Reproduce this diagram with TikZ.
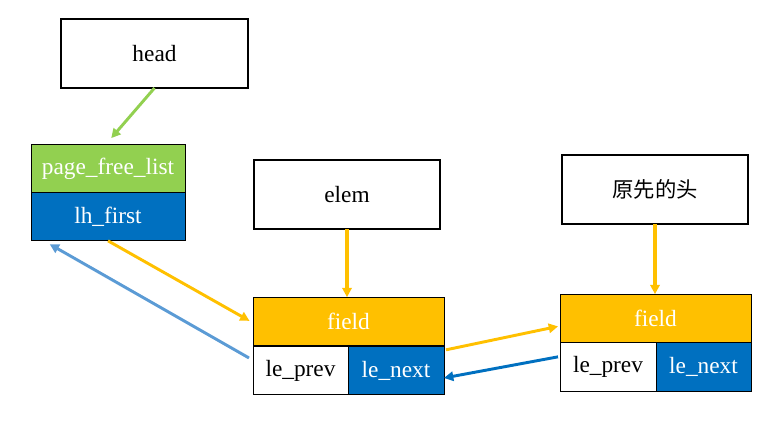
\documentclass[tikz,border=0pt]{standalone}
\usepackage{fontspec}
\setmainfont{Liberation Serif}
\newfontfamily\cjk{Noto Sans CJK SC}
\usetikzlibrary{arrows.meta, calc, positioning}

\definecolor{cgreen}{HTML}{92D050}
\definecolor{cblue}{HTML}{0070C0}
\definecolor{corange}{HTML}{FFC000}
\definecolor{clight}{HTML}{5B9BD5}

\tikzset{
	ptr/.style={draw, line width=1.5pt, fill=white, inner sep=0pt, outer sep=0pt,
		minimum width=140pt, minimum height=51.75pt, font=\fontsize{17.5}{20}\selectfont},
	cell/.style={draw, line width=0.75pt, inner sep=0pt, outer sep=0pt,
		minimum height=36.5pt, font=\fontsize{17.5}{20}\selectfont},
	link/.style={line width=2.2pt, -{Triangle[length=7pt, width=7pt]}},
}

\begin{document}
\begin{tikzpicture}[x=0.75pt, y=-0.75pt]
		\useasboundingbox (0,0) rectangle (781,423);
		
		% Pointer boxes
		\node[ptr] (head) at (154.5,53.5) {head};
		\node[ptr] (elem) at (347,195) {elem};
		\node[ptr] (old) at (655,189.5) {\cjk\fontsize{16}{20}\selectfont 原先的头};
		
		% List head
		\node[cell, fill=cgreen, text=white, minimum width=115.5pt] (freelist) at (108,168.5) {page\_free\_list};
		\node[cell, fill=cblue, text=white, minimum width=115.5pt] (lhfirst) at (108,216.5) {lh\_first};
		
		% First element
		\node[cell, fill=corange, text=white, minimum width=143.25pt] (field1) at (348.5,321.5) {field};
		\node[cell, minimum width=71.25pt] (prev1) at (300.5,370.5) {le\_prev};
		\node[cell, fill=cblue, text=white, minimum width=72pt] (next1) at (396,370.5) {le\_next};
		
		% Second element
		\node[cell, fill=corange, text=white, minimum width=143.25pt] (field2) at (655.5,318.5) {field};
		\node[cell, minimum width=72pt] (prev2) at (608,367) {le\_prev};
		\node[cell, fill=cblue, text=white, minimum width=71.25pt] (next2) at (703.5,367) {le\_next};
		
		% Links
		\draw[link, cgreen] (head.south) -- ([xshift=-1.5pt]freelist.north) [shorten >=6pt];
		\draw[link, corange, line width=2.6pt] (elem.south) -- (elem.south |- field1.north);
		\draw[link, corange, line width=2.6pt] (old.south) -- (old.south |- field2.north);
		\draw[link, corange, shorten >=3pt] (lhfirst.south) -- ([yshift=-1pt]field1.west);
		\draw[link, clight] ([xshift=-3pt, yshift=9.4pt]prev1.west) -- ([xshift=14pt, yshift=-2.5pt]lhfirst.south west);
		\draw[link, corange, shorten >=1.5pt] ([xshift=1.5pt, yshift=-3pt]field1.south east) -- ([yshift=-5.6pt]field2.west);
		\draw[link, cblue] ([xshift=-1.5pt, yshift=-10.5pt]field2.south west) -- ([yshift=-5.6pt]next1.east);
	\end{tikzpicture}
\end{document}
